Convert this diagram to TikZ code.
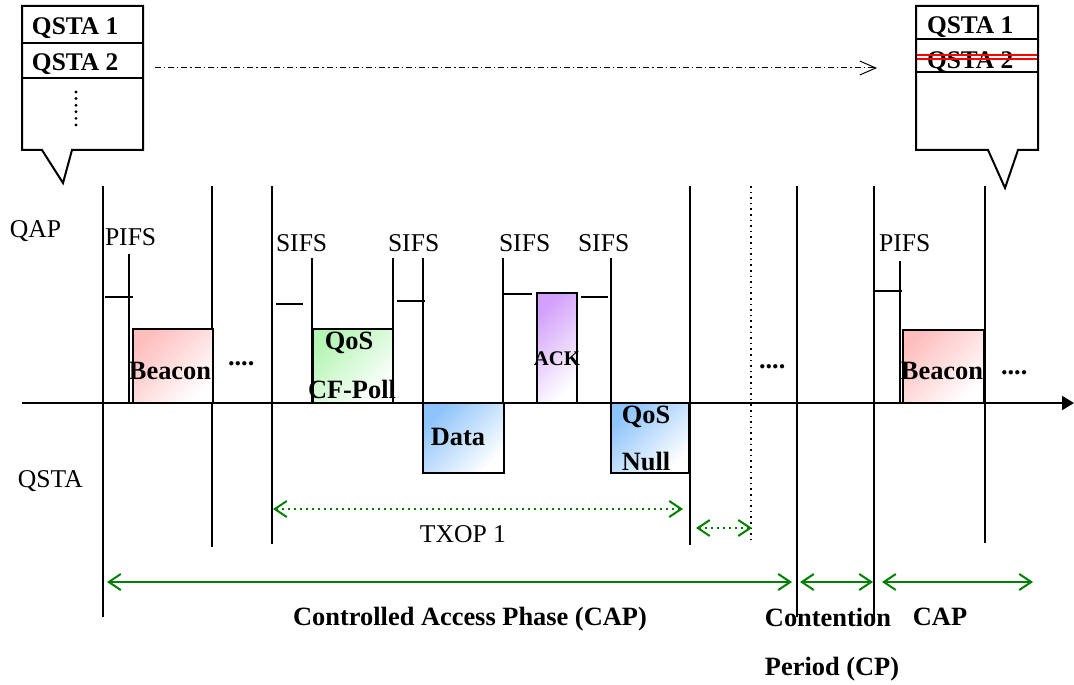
\documentclass[tikz,border=0pt]{standalone}
\usepackage{fontspec}
\setmainfont{Liberation Serif}
\usetikzlibrary{arrows.meta}
\definecolor{beaconred}{RGB}{255,190,190}
\definecolor{pollgreen}{RGB}{180,245,180}
\definecolor{datablue}{RGB}{140,195,250}
\definecolor{ackpurple}{RGB}{210,160,250}
\definecolor{spangreen}{RGB}{0,128,0}
\tikzset{
  lab/.style={inner sep=0pt, font=\fontsize{12.8}{15}\selectfont},
  blab/.style={inner sep=0pt, font=\fontsize{13.2}{15}\selectfont\bfseries},
  listlab/.style={inner sep=0pt, font=\fontsize{12.7}{15}\selectfont\bfseries},
  redbox/.style={draw, top color=beaconred, bottom color=white, shading angle=45},
  greenbox/.style={draw, top color=pollgreen, bottom color=white, shading angle=45},
  bluebox/.style={draw, top color=datablue, bottom color=white, shading angle=45},
  purplebox/.style={draw, top color=ackpurple, bottom color=white, shading angle=45},
  spanarrow/.style={spangreen, {Straight Barb[length=6pt,width=8pt]}-{Straight Barb[length=6pt,width=8pt]}},
}
\begin{document}
\begin{tikzpicture}[x=0.5pt,y=-0.5pt,line width=1pt]
\useasboundingbox (0,0) rectangle (1074,684);

% station lists
\draw (22,6) -- (143,6) -- (143,150) -- (72,150) -- (63,183) -- (42,150) -- (22,150) -- cycle;
\draw (22,43) -- (143,43) (22,78) -- (143,78);
\node[listlab, anchor=base west] (lista) at (31,35) {QSTA 1};
\node[listlab, anchor=base west] (listb) at (31,71) {QSTA 2};
\foreach \k in {0,...,5}
  \fill (76,92+6.6*\k) circle[radius=0.8pt];

\draw (916,6) -- (1038,6) -- (1038,150) -- (1018,150) -- (1005,188) -- (988,150) -- (916,150) -- cycle;
\draw (916,39) -- (1038,39) (916,72) -- (1038,72);
\node[listlab, anchor=base west] (listc) at (926,34) {QSTA 1};
\node[listlab, anchor=base west] (listd) at (926,69) {QSTA 2};
\draw[red, line width=0.6pt] (917,55) -- (1037,55) (917,59) -- (1037,59);

\draw[line width=0.5pt, dash pattern=on 3pt off 1.5pt on 0.6pt off 1.5pt,
  -{Straight Barb[length=8pt,width=7pt]}] (155,68) -- (877,68);

% time lines
\foreach \x/\y in {103/617, 212/547, 272/544, 690/545, 797/617, 874/622, 985/543}
  \draw (\x,186) -- (\x,\y);
\draw[dotted, line width=0.8pt] (751,186) -- (751,543);
\foreach \x/\y in {129/254, 312/258, 393/258, 900/261}
  \draw (\x,\y) -- (\x,403);
\foreach \x in {423, 503, 611}
  \draw (\x,258) -- (\x,473);

% interframe spaces
\draw (105,297) -- (133,297);
\draw (276,304) -- (303,304);
\draw (397,301) -- (425,301);
\draw (503,294) -- (532,294);
\draw (581,297) -- (608,297);
\draw (873,291) -- (902,291);

% frames
\path[redbox] (133,329) rectangle (213,403);
\path[greenbox] (313,329) rectangle (393,403);
\path[bluebox] (423,403) rectangle (504,473);
\path[purplebox] (537,293) rectangle (577,403);
\path[bluebox] (611,403) rectangle (689,473);
\path[redbox] (903,330) rectangle (984,403);

\draw[-{Triangle[length=6pt,width=7pt]}] (22,403) -- (1074,403);

\node[lab, anchor=base west] (qap) at (9,237) {QAP};
\node[lab, anchor=base west] (qsta) at (17,487) {QSTA};
\node[lab, anchor=base west] (pifsa) at (104,245) {PIFS};
\node[lab, anchor=base west] (sifsa) at (275,251) {SIFS};
\node[lab, anchor=base west] (sifsb) at (387,251) {SIFS};
\node[lab, anchor=base west] (sifsc) at (498,251) {SIFS};
\node[lab, anchor=base west] (sifsd) at (577,251) {SIFS};
\node[lab, anchor=base west] (pifsb) at (878,251) {PIFS};

\node[blab, anchor=base] (beacona) at (170,379) {Beacon};
\node[blab, anchor=base] (pollq) at (349,349) {QoS};
\node[blab, anchor=base] (poll) at (352,398) {CF-Poll};
\node[blab, anchor=base] (data) at (458,445) {Data};
\node[blab, anchor=base, font=\fontsize{10.4}{12}\selectfont\bfseries] (ack) at (557,365) {ACK};
\node[blab, anchor=base] (nullq) at (646,423) {QoS};
\node[blab, anchor=base] (null) at (646,470) {Null};
\node[blab, anchor=base] (beaconb) at (942,379) {Beacon};

\node[blab, anchor=base west] (morea) at (227,365) {....};
\node[blab, anchor=base west] (moreb) at (758,368) {....};
\node[blab, anchor=base west] (morec) at (1000,374) {....};

% periods
\draw[spanarrow, dotted] (273,509) -- (683,509);
\draw[spanarrow, dotted] (696,528) -- (752,528);
\draw[spanarrow] (107,582) -- (792,582);
\draw[spanarrow] (800,582) -- (873,582);
\draw[spanarrow] (882,582) -- (1033,582);

\node[lab, anchor=base] (txop) at (463,542) {TXOP 1};
\node[blab, anchor=base] (cap) at (470,625) {Controlled Access Phase (CAP)};
\node[blab, anchor=base] (cpa) at (828,626) {Contention};
\node[blab, anchor=base] (cpb) at (832,675) {Period (CP)};
\node[blab, anchor=base] (capb) at (940,625) {CAP};
\end{tikzpicture}
\end{document}
